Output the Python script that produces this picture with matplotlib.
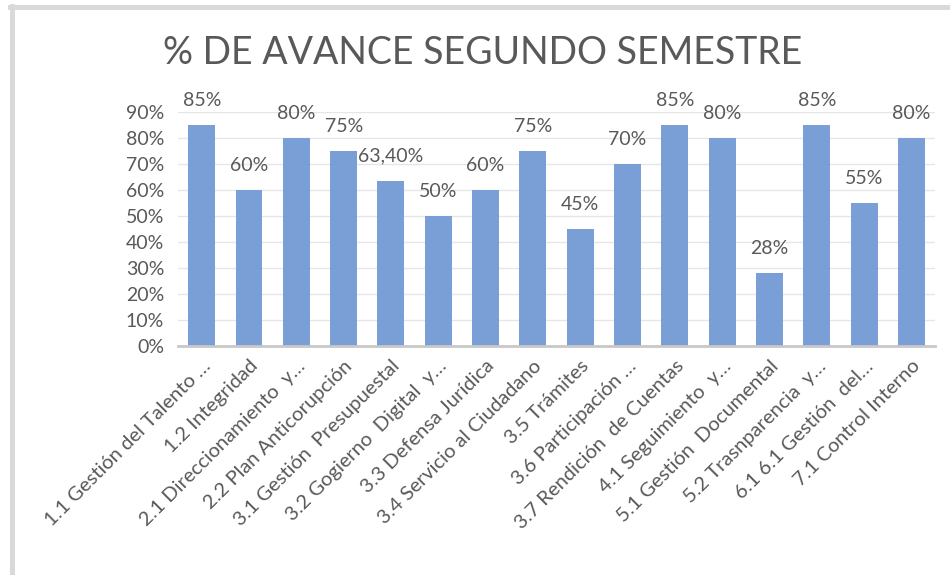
import matplotlib
matplotlib.use("Agg")
import matplotlib.pyplot as plt
from matplotlib.lines import Line2D
from matplotlib.ticker import PercentFormatter

categories = [
    "1.1 Gestión del Talento …", "1.2 Integridad", "2.1 Direccionamiento  y…",
    "2.2 Plan Anticorupción", "3.1 Gestión  Presupuestal", "3.2 Gogierno  Digital  y…",
    "3.3 Defensa Jurídica", "3.4 Servicio al Ciudadano", "3.5 Trámites",
    "3.6 Participación …", "3.7 Rendición  de Cuentas", "4.1 Seguimiento  y…",
    "5.1 Gestión  Documental", "5.2 Trasnparencia  y…", "6.1 6.1 Gestión  del…",
    "7.1 Control Interno",
]
values = [85, 60, 80, 75, 63.4, 50, 60, 75, 45, 70, 85, 80, 28, 85, 55, 80]
value_labels = ["85%", "60%", "80%", "75%", "63,40%", "50%", "60%", "75%", "45%",
                "70%", "85%", "80%", "28%", "85%", "55%", "80%"]
yticks = [0, 10, 20, 30, 40, 50, 60, 70, 80, 90]

plt.rcParams["font.family"] = ["Lato", "DejaVu Sans"]
grey = "#595959"

fig = plt.figure(figsize=(9.5, 5.75), dpi=100)
ax = fig.add_axes([0.1874, 0.398, 0.797, 0.407])

x = range(len(values))
ax.bar(x, values, width=0.57, color="#7a9ed6", zorder=2)
for xi, v, lab in zip(x, values, value_labels):
    ax.annotate(lab, (xi, v), xytext=(0, 18), textcoords="offset points",
                ha="center", va="center", fontsize=14, color=grey, zorder=3)

ax.set_xlim(-0.5, len(values) - 0.5)
ax.set_ylim(0, 90)
ax.set_yticks(yticks)
ax.yaxis.set_major_formatter(PercentFormatter(decimals=0))
ax.set_xticks(list(x))
ax.set_xticklabels(categories, rotation=45, ha="right", rotation_mode="anchor",
                   fontsize=14.5, color=grey)
ax.tick_params(axis="y", length=0, labelsize=14, labelcolor=grey, pad=10)
ax.tick_params(axis="x", length=0, pad=8)
ax.grid(axis="y", color="#e6e6e6", lw=1, zorder=0)
for s in ("top", "right", "left"):
    ax.spines[s].set_visible(False)
ax.spines["bottom"].set_color("#c8c8c8")
ax.spines["bottom"].set_linewidth(2)

fig.text(0.508, 0.908, "% DE AVANCE SEGUNDO SEMESTRE", ha="center", va="center",
         fontsize=27, color=grey)

# outer frame of the screenshot
fig.add_artist(Line2D([0.011, 1.0], [0.988, 0.988], color="#d9d9d9", lw=3.6,
                      transform=fig.transFigure))
fig.add_artist(Line2D([0.013, 0.013], [0.0, 0.99], color="#d9d9d9", lw=3.6,
                      transform=fig.transFigure))

fig.savefig("out.png", dpi=100)
